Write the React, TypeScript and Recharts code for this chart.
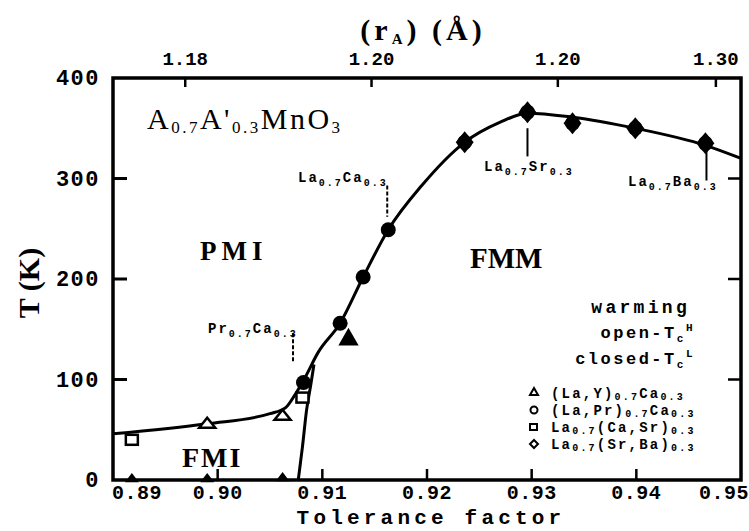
import React from "react";
import {
  ComposedChart,
  Line,
  Scatter,
  XAxis,
  YAxis,
  ReferenceArea,
  ReferenceLine,
} from "recharts";

// tolerance factor axis (bottom) and <r_A> axis (top)
const toleranceTicks = [0.89, 0.9, 0.91, 0.92, 0.93, 0.94, 0.95];
const tempTicks = [0, 100, 200, 300, 400];
const radiusTickPos = [0.8969, 0.9147, 0.9325, 0.9476];
const radiusTickLabels = ["1.18", "1.20", "1.20", "1.30"];

// phase boundary (Tc curve)
const boundaryX = [0.89, 0.899, 0.905, 0.9065, 0.9074, 0.9083, 0.9096, 0.9117, 0.9139, 0.9163, 0.9195, 0.9236, 0.927, 0.9296, 0.9339, 0.9399, 0.9466, 0.95];
const boundaryT = [46, 56, 66, 72, 85, 101, 127, 156, 202, 249, 293, 336, 356, 365, 361, 350, 333, 320];

// FMI / FMM boundary (near-vertical line)
const fmiX = [0.9077, 0.9081, 0.9085, 0.9089, 0.9092];
const fmiT = [0, 33, 70, 95, 115];

// (La,Y)0.7Ca0.3 - triangles
const triOpenX = [0.899, 0.9062];
const triOpenT = [57, 65];
const triFilledX = [0.9125];
const triFilledT = [142];
const triBaseX = [0.8918, 0.899, 0.9062];
const triBaseT = [2, 2, 3];
// La0.7(Ca,Sr)0.3 - squares
const squareX = [0.8918, 0.9081];
const squareT = [40, 82];
// (La,Pr)0.7Ca0.3 - circles
const circleX = [0.9082, 0.9117, 0.9139, 0.9163];
const circleT = [97, 156, 202, 249];
// La0.7(Sr,Ba)0.3 - diamonds
const diamondX = [0.9236, 0.9296, 0.9339, 0.9399, 0.9466];
const diamondT = [336, 366, 355, 350, 335];

const zip = (xs: number[], ts: number[]) => xs.map((x, i) => ({ x, t: ts[i] }));

const PLOT_LEFT = 113;
const PLOT_RIGHT = 741;
const PLOT_TOP = 78;
const PLOT_BOTTOM = 480;
const MONO = "'Liberation Mono', 'DejaVu Sans Mono', monospace";
const SERIF = "'Liberation Serif', 'DejaVu Serif', serif";

// text pieces: level 0 normal, 1 subscript, -1 superscript
type Part = [string, number];
const Rich = ({ parts, small, down = 4 }: { parts: Part[]; small: number; down?: number }) => {
  let cur = 0;
  return (
    <>
      {parts.map(([s, lvl], i) => {
        const target = lvl === 1 ? down : lvl === -1 ? -7 : 0;
        const dy = target - cur;
        cur = target;
        return (
          <tspan key={i} dy={dy} fontSize={lvl ? small : undefined}>
            {s}
          </tspan>
        );
      })}
    </>
  );
};

const BottomTick = (props: any) => {
  const { x, payload, index } = props;
  const last = index === toleranceTicks.length - 1;
  const shift = index === 0 ? 24 : last ? -17 : 0;
  return (
    <g>
      {index > 0 && !last && (
        <line x1={x} x2={x} y1={PLOT_BOTTOM} y2={PLOT_BOTTOM - 11} stroke="#000" strokeWidth={2.5} />
      )}
      <text x={x + shift} y={PLOT_BOTTOM + 19} textAnchor="middle" fontFamily={MONO} fontWeight="bold" fontSize={20} letterSpacing={0.5} fill="#000">
        {Number(payload.value).toFixed(2)}
      </text>
    </g>
  );
};

const TopTick = (props: any) => {
  const { x, index } = props;
  return (
    <g>
      <line x1={x} x2={x} y1={PLOT_TOP} y2={PLOT_TOP + 9} stroke="#000" strokeWidth={2.5} />
      <text x={x} y={PLOT_TOP - 13} textAnchor="middle" fontFamily={MONO} fontWeight="bold" fontSize={19} fill="#000">
        {radiusTickLabels[index]}
      </text>
    </g>
  );
};

const LeftTick = (props: any) => {
  const { y, payload } = props;
  const v = Number(payload.value);
  return (
    <g>
      {v > 0 && v < 400 && (
        <line x1={PLOT_LEFT} x2={PLOT_LEFT + 14} y1={y} y2={y} stroke="#000" strokeWidth={3} />
      )}
      <text x={PLOT_LEFT - 13} y={y + 7} textAnchor="end" fontFamily={MONO} fontWeight="bold" fontSize={22} letterSpacing={1.5} fill="#000">
        {v}
      </text>
    </g>
  );
};

const RightTick = (props: any) => {
  const { y } = props;
  return <line x1={PLOT_RIGHT} x2={PLOT_RIGHT - 13} y1={y} y2={y} stroke="#000" strokeWidth={2.5} />;
};

const triangle = (filled: boolean, w: number, h: number) => (p: any) => (
  <path
    d={`M${p.cx},${p.cy - h / 2} L${p.cx + w / 2},${p.cy + h / 2} L${p.cx - w / 2},${p.cy + h / 2} Z`}
    fill={filled ? "#000" : "#fff"}
    stroke="#000"
    strokeWidth={2.5}
  />
);
const square = (p: any) => (
  <rect x={p.cx - 6} y={p.cy - 5} width={12} height={10} fill="#fff" stroke="#000" strokeWidth={2.5} />
);
const circle = (p: any) => <circle cx={p.cx} cy={p.cy} r={7.5} fill="#000" />;
const diamond = (p: any) => (
  <g>
    <path d={`M${p.cx},${p.cy - 11} L${p.cx + 9},${p.cy} L${p.cx},${p.cy + 11} L${p.cx - 9},${p.cy} Z`} fill="#000" />
    <circle cx={p.cx} cy={p.cy} r={7.5} fill="#000" />
  </g>
);

const labelStyle = { fontFamily: MONO, fontWeight: "bold" as const, fontSize: 14, letterSpacing: 2 };
const legendStyle = { fontFamily: MONO, fontWeight: "bold" as const, fontSize: 14, letterSpacing: 2.2 };

export default function App() {
  return (
    <div style={{ position: "absolute", left: 0, top: 0, width: 749, height: 531, background: "#fff" }}>
      <ComposedChart width={749} height={531} margin={{ top: 0, right: 0, bottom: 0, left: 0 }}>
        <XAxis
          xAxisId={0}
          dataKey="x"
          type="number"
          domain={[0.89, 0.95]}
          ticks={toleranceTicks}
          allowDataOverflow
          height={51}
          axisLine={false}
          tickLine={false}
          tick={BottomTick}
          interval={0}
        />
        <XAxis
          xAxisId="top"
          dataKey="x"
          orientation="top"
          type="number"
          domain={[0.89, 0.95]}
          ticks={radiusTickPos}
          allowDataOverflow
          height={78}
          axisLine={false}
          tickLine={false}
          tick={TopTick}
          interval={0}
        />
        <YAxis
          yAxisId={0}
          type="number"
          domain={[0, 400]}
          ticks={tempTicks}
          width={113}
          axisLine={false}
          tickLine={false}
          tick={LeftTick}
          interval={0}
        />
        <YAxis
          yAxisId="right"
          orientation="right"
          type="number"
          domain={[0, 400]}
          ticks={[100, 200, 300]}
          width={8}
          axisLine={false}
          tickLine={false}
          tick={RightTick}
          interval={0}
        />
        <ReferenceArea x1={0.89} x2={0.95} y1={0} y2={400} fill="none" stroke="#000" strokeWidth={3.5} ifOverflow="visible" />

        {/* invisible copy of the boundary so the top and right axes get drawn */}
        <Line xAxisId="top" yAxisId="right" data={zip(boundaryX, boundaryT)} dataKey="t" stroke="none" dot={false} isAnimationActive={false} />

        <Line data={zip(boundaryX, boundaryT)} dataKey="t" type="monotone" stroke="#000" strokeWidth={3} dot={false} isAnimationActive={false} />
        <Line data={zip(fmiX, fmiT)} dataKey="t" type="monotone" stroke="#000" strokeWidth={3} dot={false} isAnimationActive={false} />

        <ReferenceLine segment={[{ x: 0.9162, y: 293 }, { x: 0.9162, y: 262 }]} stroke="#000" strokeWidth={2} strokeDasharray="4 2" />
        <ReferenceLine segment={[{ x: 0.9072, y: 146 }, { x: 0.9072, y: 117 }]} stroke="#000" strokeWidth={2} strokeDasharray="4 2" />
        <ReferenceLine segment={[{ x: 0.9296, y: 350 }, { x: 0.9296, y: 322 }]} stroke="#000" strokeWidth={2} />
        <ReferenceLine segment={[{ x: 0.9467, y: 328 }, { x: 0.9467, y: 298 }]} stroke="#000" strokeWidth={2} />

        <Scatter data={zip(triOpenX, triOpenT)} dataKey="t" shape={triangle(false, 16, 10)} isAnimationActive={false} />
        <Scatter data={zip(triBaseX, triBaseT)} dataKey="t" shape={triangle(true, 9, 6)} isAnimationActive={false} />
        <Scatter data={zip(triFilledX, triFilledT)} dataKey="t" shape={triangle(true, 16, 14)} isAnimationActive={false} />
        <Scatter data={zip(squareX, squareT)} dataKey="t" shape={square} isAnimationActive={false} />
        <Scatter data={zip(circleX, circleT)} dataKey="t" shape={circle} isAnimationActive={false} />
        <Scatter data={zip(diamondX, diamondT)} dataKey="t" shape={diamond} isAnimationActive={false} />
      </ComposedChart>

      <svg width={749} height={531} style={{ position: "absolute", left: 0, top: 0, pointerEvents: "none" }}>
        <g fill="#000">
          {/* axis titles */}
          <text x={423} y={40} textAnchor="middle" fontFamily={SERIF} fontWeight="bold" fontSize={30} letterSpacing={4}>
            <Rich parts={[["(r", 0], ["A", 1], [")  (Å)", 0]]} small={15} />
          </text>
          <text x={431} y={524} textAnchor="middle" fontFamily={MONO} fontWeight="bold" fontSize={21} letterSpacing={4.2}>
            Tolerance factor
          </text>
          <text x={39} y={283} textAnchor="middle" fontFamily={SERIF} fontWeight="bold" fontSize={30} transform="rotate(-90 39 283)">
            T (K)
          </text>

          {/* compound formula */}
          <text x={147} y={129} fontFamily={SERIF} fontSize={30} letterSpacing={2.5}>
            <Rich parts={[["A", 0], ["0.7", 1], ["A'", 0], ["0.3", 1], ["MnO", 0], ["3", 1]]} small={17} />
          </text>

          {/* phase regions */}
          <text x={200} y={260} fontFamily={SERIF} fontWeight="bold" fontSize={27} letterSpacing={5}>PMI</text>
          <text x={470} y={268} fontFamily={SERIF} fontWeight="bold" fontSize={29}>FMM</text>
          <text x={182} y={467} fontFamily={SERIF} fontWeight="bold" fontSize={28} letterSpacing={2}>FMI</text>

          {/* compound annotations */}
          <text x={298} y={182} {...labelStyle}>
            <Rich parts={[["La", 0], ["0.7", 1], ["Ca", 0], ["0.3", 1]]} small={10} />
          </text>
          <text x={208} y={333} {...labelStyle}>
            <Rich parts={[["Pr", 0], ["0.7", 1], ["Ca", 0], ["0.3", 1]]} small={10} />
          </text>
          <text x={484} y={171} {...labelStyle}>
            <Rich parts={[["La", 0], ["0.7", 1], ["Sr", 0], ["0.3", 1]]} small={10} />
          </text>
          <text x={628} y={186} {...labelStyle}>
            <Rich parts={[["La", 0], ["0.7", 1], ["Ba", 0], ["0.3", 1]]} small={10} />
          </text>

          {/* legend */}
          <text x={690} y={313} textAnchor="end" fontFamily={MONO} fontWeight="bold" fontSize={18} letterSpacing={3.3}>warming</text>
          <text x={695} y={338} textAnchor="end" fontFamily={MONO} fontWeight="bold" fontSize={17} letterSpacing={2.5}>
            <Rich parts={[["open-T", 0], ["c", 1], ["H", -1]]} small={11} />
          </text>
          <text x={695} y={364} textAnchor="end" fontFamily={MONO} fontWeight="bold" fontSize={17} letterSpacing={2.5}>
            <Rich parts={[["closed-T", 0], ["c", 1], ["L", -1]]} small={11} />
          </text>

          <text x={551} y={398} {...legendStyle}>
            <Rich parts={[["(La,Y)", 0], ["0.7", 1], ["Ca", 0], ["0.3", 1]]} small={10} down={2} />
          </text>
          <text x={551} y={415} {...legendStyle}>
            <Rich parts={[["(La,Pr)", 0], ["0.7", 1], ["Ca", 0], ["0.3", 1]]} small={10} down={2} />
          </text>
          <text x={551} y={432} {...legendStyle}>
            <Rich parts={[["La", 0], ["0.7", 1], ["(Ca,Sr)", 0], ["0.3", 1]]} small={10} down={2} />
          </text>
          <text x={551} y={449} {...legendStyle}>
            <Rich parts={[["La", 0], ["0.7", 1], ["(Sr,Ba)", 0], ["0.3", 1]]} small={10} down={2} />
          </text>
        </g>
        <g fill="#fff" stroke="#000" strokeWidth={2}>
          <path d="M534,388 L538,395 L530,395 Z" />
          <circle cx={534} cy={410} r={3.5} />
          <rect x={530} y={424} width={7} height={6} />
          <path d="M534,440 L538,444 L534,448 L530,444 Z" />
        </g>
      </svg>
    </div>
  );
}
